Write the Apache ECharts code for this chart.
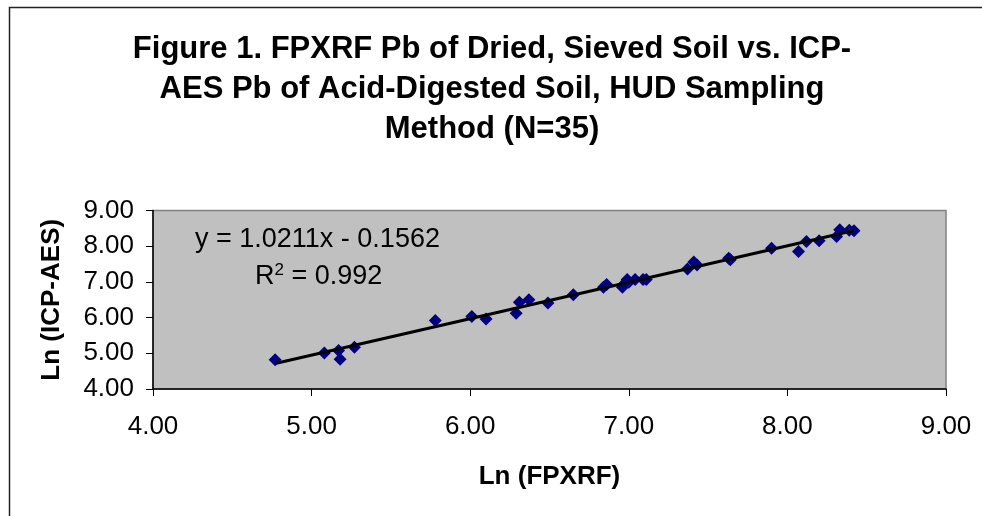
<!DOCTYPE html>
<html>
<head>
<meta charset="utf-8">
<script src="https://cdn.jsdelivr.net/npm/echarts@6/dist/echarts.min.js"></script>
<style>html,body{margin:0;padding:0;background:#fff}#c{width:982px;height:516px}</style>
</head>
<body>
<div id="c"></div>
<script>
const titleText = 'Figure 1. FPXRF Pb of Dried, Sieved Soil vs. ICP-\nAES Pb of Acid-Digested Soil, HUD Sampling\nMethod (N=35)';
const xName = 'Ln (FPXRF)';
const yName = 'Ln (ICP-AES)';
const fpxrf = [4.77, 5.08, 5.17, 5.18, 5.27, 5.78, 6.01, 6.10, 6.29, 6.31, 6.37, 6.49, 6.65, 6.84, 6.86, 6.96, 6.97, 6.99, 7.00, 7.04, 7.09, 7.11, 7.37, 7.41, 7.43, 7.63, 7.64, 7.90, 8.07, 8.12, 8.20, 8.31, 8.33, 8.39, 8.42];
const icpaes = [4.82, 5.01, 5.08, 4.83, 5.17, 5.92, 6.03, 5.96, 6.12, 6.43, 6.50, 6.41, 6.64, 6.85, 6.93, 6.85, 6.94, 7.07, 6.99, 7.07, 7.07, 7.07, 7.36, 7.56, 7.47, 7.66, 7.62, 7.94, 7.85, 8.13, 8.15, 8.27, 8.46, 8.45, 8.43];
const slope = 1.0211;
const intercept = -0.1562;
const eqText = 'y = 1.0211x - 0.1562';
const r2Text = '0.992';
const axisTicks = [4, 5, 6, 7, 8, 9];

const points = fpxrf.map((x, i) => [x, icpaes[i]]);
const xMin = Math.min(...fpxrf), xMax = Math.max(...fpxrf);
const trend = [[xMin, slope * xMin + intercept], [xMax, slope * xMax + intercept]];

const chart = echarts.init(document.getElementById('c'));
const font = '"Liberation Sans", Arial, sans-serif';
chart.setOption({
  animation: false,
  textStyle: { fontFamily: font },
  title: {
    text: titleText,
    left: 487, top: 24, textAlign: 'center',
    textStyle: { fontFamily: font, fontSize: 31, fontWeight: 'bold', color: '#000', lineHeight: 40 }
  },
  grid: { left: 153, right: 36, top: 210.5, bottom: 127, show: true, backgroundColor: '#C0C0C0', borderColor: '#808080', borderWidth: 1.5 },
  xAxis: {
    type: 'value', min: axisTicks[0], max: axisTicks[axisTicks.length - 1], interval: 1,
    name: xName, nameLocation: 'middle', nameGap: 75,
    nameTextStyle: { fontFamily: font, fontSize: 26, fontWeight: 'bold', color: '#000' },
    axisLine: { show: true, lineStyle: { color: '#000', width: 1.5 } },
    axisTick: { show: true, length: 7, lineStyle: { color: '#000' } },
    axisLabel: { fontFamily: font, fontSize: 26, color: '#000', margin: 25, formatter: v => v.toFixed(2) },
    splitLine: { show: false }
  },
  yAxis: {
    type: 'value', min: axisTicks[0], max: axisTicks[axisTicks.length - 1], interval: 1,
    name: yName, nameLocation: 'middle', nameGap: 88, nameRotate: 90,
    nameTextStyle: { fontFamily: font, fontSize: 26, fontWeight: 'bold', color: '#000' },
    axisLine: { show: true, lineStyle: { color: '#000', width: 1.5 } },
    axisTick: { show: true, length: 7, lineStyle: { color: '#000' } },
    axisLabel: { fontFamily: font, fontSize: 26, color: '#000', margin: 19, formatter: v => v.toFixed(2) },
    splitLine: { show: false }
  },
  graphic: [
    { type: 'rect', left: 7, top: 5, shape: { width: 1100, height: 700 }, style: { fill: 'none', stroke: '#222', lineWidth: 1.5 }, silent: true, z: -10 },
    { type: 'text', left: 195, top: 226, style: { text: eqText, font: '27px "Liberation Sans", Arial, sans-serif', fill: '#000' }, z: 10 },
    { type: 'text', left: 255, top: 262, style: { text: '{a|R}{s|2}{a| = ' + r2Text + '}', rich: { a: { fontFamily: font, fontSize: 27, color: '#000', lineHeight: 28, verticalAlign: 'bottom' }, s: { fontFamily: font, fontSize: 17, color: '#000', lineHeight: 28, verticalAlign: 'top' } } }, z: 10 }
  ],
  series: [
    {
      type: 'scatter', data: points, symbol: 'diamond', symbolSize: 13,
      itemStyle: { color: '#000080', opacity: 1 }, z: 3
    },
    {
      type: 'line', data: trend, symbol: 'none',
      lineStyle: { color: '#000', width: 3 }, z: 4
    }
  ]
});
</script>
</body>
</html>
